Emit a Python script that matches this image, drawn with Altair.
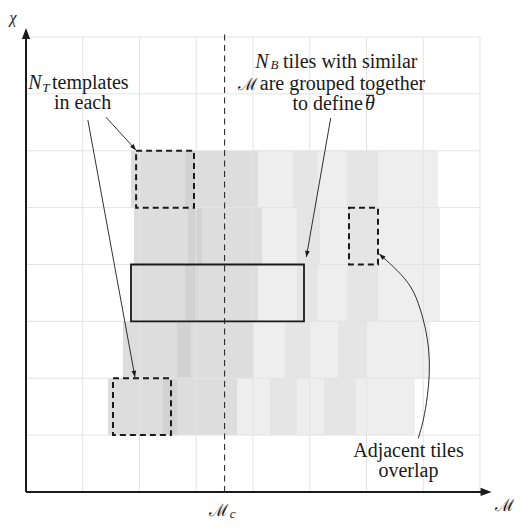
import math
import altair as alt
import pandas as pd

# ---------------- data (in grid-cell units) ----------------
X_DOMAIN = [-0.3, 8.6]
Y_DOMAIN = [-0.51, 8.51]
W, H = 505, 513

grid_ticks = [1, 2, 3, 4, 5, 6, 7, 8]
grid_max = 8
m_c = 3.5
m_c_top = 8.07

# tile rows: bottom of row, segment edges along M, shade of each segment
row_y = [1, 2, 3, 4, 5]
row_edges = [
    [1.445, 2.414, 2.661, 3.718, 4.300, 4.775, 5.251, 5.815, 6.855],
    [1.709, 2.661, 2.907, 4.000, 4.564, 5.004, 5.498, 6.009, 7.119],
    [1.850, 2.802, 3.031, 4.088, 4.775, 5.145, 5.656, 6.203, 7.295],
    [1.903, 2.855, 3.101, 4.159, 4.775, 5.181, 5.674, 6.203, 7.295],
    [1.850, 2.802, 2.978, 4.088, 4.705, 5.145, 5.656, 6.203, 7.260],
]
row_shades = ["mid", "overlap", "mid", "light", "light overlap", "light", "light overlap", "light"]
shade_names = ["mid", "overlap", "light", "light overlap"]
shade_colors = ["#dddddd", "#d2d2d2", "#eeeeee", "#e5e5e5"]

# highlighted boxes
dbox_x0 = [1.94, 5.692, 1.533]
dbox_x1 = [2.96, 6.203, 2.555]
dbox_y0 = [5, 4, 1]
dbox_y1 = [6, 5, 2]
sbox_x0, sbox_x1, sbox_y0, sbox_y1 = [1.85], [4.899], [3], [4]

# straight annotation arrows (start -> tip)
arrow_x0 = [1.41, 1.09, 5.37]
arrow_y0 = [6.59, 6.54, 6.576]
arrow_x1 = [1.94, 1.92, 4.94]
arrow_y1 = [6.01, 2.02, 4.13]

# curved arrow ("Adjacent tiles overlap")
curve_x = [6.913, 7.001, 7.071, 7.107, 7.096, 7.031, 6.913, 6.737, 6.472, 6.226]
curve_y = [0.944, 1.266, 1.676, 2.087, 2.497, 2.906, 3.318, 3.669, 3.961, 4.185]

# axes
axis_end_x = 8.12
axis_end_y = 8.1
axis_tip_x = 8.205
axis_tip_y = 8.158

# macron over theta (bar of \bar{theta})
bar_x0, bar_x1, bar_y = [5.991], [6.132], [6.974]

# texts
txt_left = ["templates", "tiles with similar", "are grouped together"]
txt_left_x = [0.458, 4.53, 4.12]
txt_left_y = [7.09, 7.455, 7.062]
txt_right = ["to define"]
txt_right_x = [5.938]
txt_right_y = [6.714]
txt_center = ["in each", "Adjacent tiles", "overlap"]
txt_center_x = [0.996, 6.74, 6.74]
txt_center_y = [6.74, 0.61, 0.26]
txt_ital = ["N", "N", "θ"]
txt_ital_x = [0.04, 4.04, 5.974]
txt_ital_y = [7.09, 7.455, 6.714]
txt_sub = ["T", "B", "c"]
txt_sub_x = [0.285, 4.31, 3.59]
txt_sub_y = [7.03, 7.44, -0.457]
txt_script = ["ℳ", "ℳ", "ℳ"]
txt_script_x = [3.912, 3.401, 8.44]
txt_script_y = [7.062, -0.422, -0.334]
txt_chi = ["χ"]
txt_chi_x = [-0.229]
txt_chi_y = [8.255]

# ---------------- build ----------------
FONT = "Liberation Serif"
INK = "#1a1a1a"
FS = 20
xs = alt.Scale(domain=X_DOMAIN, nice=False, zero=False)
ys = alt.Scale(domain=Y_DOMAIN, nice=False, zero=False)
px_x = W / (X_DOMAIN[1] - X_DOMAIN[0])
px_y = H / (Y_DOMAIN[1] - Y_DOMAIN[0])


def X(f):
    return alt.X(f"{f}:Q", scale=xs, axis=None)


def Y(f):
    return alt.Y(f"{f}:Q", scale=ys, axis=None)


def angle_of(x0, y0, x1, y1):
    dx = (x1 - x0) * px_x
    dy = -(y1 - y0) * px_y
    return math.degrees(math.atan2(dy, dx)) % 360


tiles = []
for yb, edges in zip(row_y, row_edges):
    for i, shade in enumerate(row_shades):
        tiles.append({"x": edges[i], "x2": edges[i + 1], "y": yb, "y2": yb + 1, "shade": shade})
tiles = pd.DataFrame(tiles)

grid = pd.DataFrame(
    [{"x": g, "x2": g, "y": 0, "y2": grid_max} for g in grid_ticks]
    + [{"x": 0, "x2": grid_max, "y": g, "y2": g} for g in grid_ticks]
)

tile_layer = alt.Chart(tiles).mark_rect(strokeWidth=0).encode(
    x=X("x"), x2="x2", y=Y("y"), y2="y2",
    color=alt.Color("shade:N", scale=alt.Scale(domain=shade_names, range=shade_colors), legend=None),
)
grid_layer = alt.Chart(grid).mark_rule(color="#e3e3e3", strokeWidth=1).encode(
    x=X("x"), x2="x2", y=Y("y"), y2="y2"
)
mc_layer = alt.Chart(pd.DataFrame({"x": [m_c], "y": [0], "y2": [m_c_top]})).mark_rule(
    color=INK, strokeWidth=1, strokeDash=[6, 4.5]
).encode(x=X("x"), y=Y("y"), y2="y2")

dbox = pd.DataFrame({"x": dbox_x0, "x2": dbox_x1, "y": dbox_y0, "y2": dbox_y1})
dbox_layer = alt.Chart(dbox).mark_rect(
    fillOpacity=0, stroke=INK, strokeWidth=2, strokeDash=[6, 4]
).encode(x=X("x"), x2="x2", y=Y("y"), y2="y2")
sbox = pd.DataFrame({"x": sbox_x0, "x2": sbox_x1, "y": sbox_y0, "y2": sbox_y1})
sbox_layer = alt.Chart(sbox).mark_rect(fillOpacity=0, stroke=INK, strokeWidth=1.8).encode(
    x=X("x"), x2="x2", y=Y("y"), y2="y2"
)

axes = pd.DataFrame({"x": [0, 0], "x2": [axis_end_x, 0], "y": [0, 0], "y2": [0, axis_end_y]})
axes_layer = alt.Chart(axes).mark_rule(color=INK, strokeWidth=2).encode(
    x=X("x"), x2="x2", y=Y("y"), y2="y2"
)

bar = pd.DataFrame({"x": bar_x0, "x2": bar_x1, "y": bar_y})
bar_layer = alt.Chart(bar).mark_rule(color=INK, strokeWidth=1.1).encode(
    x=X("x"), x2="x2", y=Y("y")
)

arrows = pd.DataFrame({"x": arrow_x0, "y": arrow_y0, "x2": arrow_x1, "y2": arrow_y1})
arrow_layer = alt.Chart(arrows).mark_rule(color=INK, strokeWidth=0.9).encode(
    x=X("x"), x2="x2", y=Y("y"), y2="y2"
)
curve = pd.DataFrame({"x": curve_x, "y": curve_y, "i": list(range(len(curve_x)))})
curve_layer = alt.Chart(curve).mark_line(color=INK, strokeWidth=0.9, interpolate="natural").encode(
    x=X("x"), y=Y("y"), order="i:Q"
)

HEAD = "M0,0 L-2,-0.75 L-2,0.75 Z"
heads = [
    {"x": x1, "y": y1, "a": angle_of(x0, y0, x1, y1), "s": 40}
    for x0, y0, x1, y1 in zip(arrow_x0, arrow_y0, arrow_x1, arrow_y1)
]
heads.append({"x": curve_x[-1], "y": curve_y[-1],
              "a": angle_of(curve_x[-2], curve_y[-2], curve_x[-1], curve_y[-1]), "s": 40})
heads.append({"x": axis_tip_x, "y": 0, "a": 0.0, "s": 121})
heads.append({"x": 0, "y": axis_tip_y, "a": 270.0, "s": 121})
heads = pd.DataFrame(heads)
head_layer = alt.Chart(heads).mark_point(
    shape=HEAD, filled=True, fill=INK, strokeWidth=0, opacity=1
).encode(
    x=X("x"), y=Y("y"),
    angle=alt.Angle("a:Q", scale=None),
    size=alt.Size("s:Q", scale=None),
)


def text_layer(texts, xv, yv, align, style, size):
    df = pd.DataFrame({"t": texts, "x": xv, "y": yv})
    return alt.Chart(df).mark_text(
        align=align, baseline="alphabetic", font=FONT, fontSize=size, fontStyle=style, color=INK
    ).encode(x=X("x"), y=Y("y"), text="t:N")


texts = [
    text_layer(txt_left, txt_left_x, txt_left_y, "left", "normal", FS),
    text_layer(txt_right, txt_right_x, txt_right_y, "right", "normal", FS),
    text_layer(txt_center, txt_center_x, txt_center_y, "center", "normal", FS),
    text_layer(txt_ital, txt_ital_x, txt_ital_y, "left", "italic", FS),
    text_layer(txt_sub, txt_sub_x, txt_sub_y, "left", "italic", 13),
    text_layer(txt_script, txt_script_x, txt_script_y, "center", "normal", 17),
    text_layer(txt_chi, txt_chi_x, txt_chi_y, "center", "italic", 16),
]

chart = alt.layer(
    tile_layer, grid_layer, mc_layer, dbox_layer, sbox_layer, axes_layer, bar_layer,
    arrow_layer, curve_layer, head_layer, *texts
).properties(
    width=W, height=H,
    padding={"left": 1, "top": 0, "right": 0, "bottom": 0},
    autosize=alt.AutoSizeParams(type="none"),
).configure_view(stroke=None)

chart.save("out.html", embed_options={"renderer": "svg", "actions": False})
